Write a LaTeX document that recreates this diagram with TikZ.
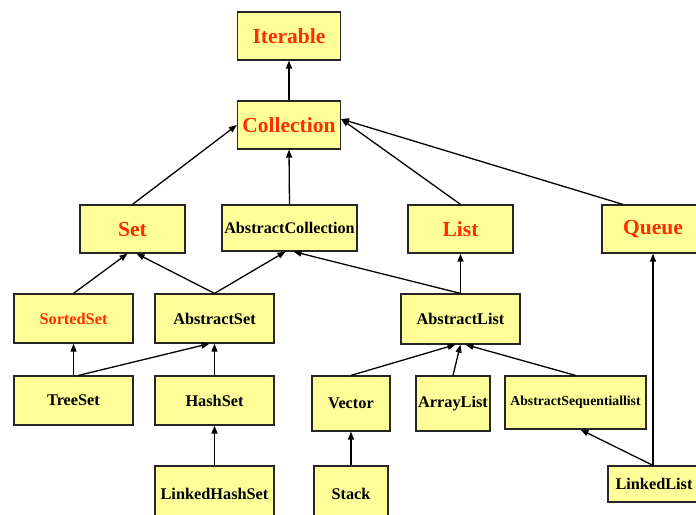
\documentclass[tikz,border=0pt]{standalone}
\usepackage{fontspec}
\setmainfont{Liberation Serif}
\usetikzlibrary{arrows.meta}
\definecolor{boxfill}{RGB}{255,255,153}
\definecolor{ifacered}{RGB}{255,45,0}
\begin{document}
\begin{tikzpicture}[x=1pt,y=-1pt,
  cls/.style={draw=black!85,line width=1.2pt,fill=boxfill,inner sep=0pt,
    font=\bfseries\fontsize{16.3}{18}\selectfont},
  iface/.style={cls,text=ifacered,font=\bfseries\fontsize{21.5}{24}\selectfont},
  edge/.style={line width=1.3pt,-{Triangle[length=8pt,width=6pt]}}]
\clip (0,0) rectangle (696,514);
\fill[white] (0,0) rectangle (696,514);
% interfaces
\node[iface,minimum width=103pt,minimum height=48pt] (iter) at (289,36) {Iterable};
\node[iface,minimum width=103pt,minimum height=48pt] (coll) at (289,125) {Collection};
\node[iface,minimum width=105pt,minimum height=48pt] (set) at (132.5,229) {Set};
\node[iface,minimum width=105pt,minimum height=48pt] (list) at (460.5,229) {List};
\node[iface,minimum width=102pt,minimum height=48pt] (queue) at (653,229) {Queue};
\node[cls,text=ifacered,minimum width=119pt,minimum height=49pt] (sorted) at (73.5,318.5) {SortedSet};
% abstract classes
\node[cls,font=\bfseries\fontsize{16.2}{17}\selectfont,minimum width=135pt,minimum height=46pt] (abscoll) at (289.5,228) {AbstractCollection};
\node[cls,minimum width=119pt,minimum height=49pt] (absset) at (214.5,318.5) {AbstractSet};
\node[cls,minimum width=119pt,minimum height=50pt] (absl) at (460.5,319) {AbstractList};
\node[cls,font=\bfseries\fontsize{13.7}{16}\selectfont,minimum width=141pt,minimum height=53pt] (aseq) at (575.5,402.5) {AbstractSequentiallist};
% concrete classes
\node[cls,minimum width=119pt,minimum height=49pt] (tree) at (73.5,400.5) {TreeSet};
\node[cls,minimum width=119pt,minimum height=49pt] (hash) at (214.5,400.5) {HashSet};
\node[cls,minimum width=119pt,minimum height=56pt] (lhs) at (214.5,494) {LinkedHashSet};
\node[cls,minimum width=78pt,minimum height=55pt] (vector) at (351,403.5) {Vector};
\node[cls,minimum width=74pt,minimum height=55pt] (array) at (453,403.5) {ArrayList};
\node[cls,minimum width=74pt,minimum height=56pt] (stack) at (351,494) {Stack};
\node[cls,minimum width=92pt,minimum height=36pt] (llist) at (654,484) {LinkedList};
% inheritance arrows
\draw[edge] (coll.north) -- (iter.south);
\draw[edge] (set.north) -- (coll.west);
\draw[edge] (abscoll.north) -- (coll.south);
\draw[edge] (list.north) -- ([yshift=6pt]coll.east);
\draw[edge] ([xshift=-30pt]queue.north) -- ([yshift=6pt]coll.east);
\draw[edge] (sorted.north) -- ([xshift=-5pt]set.south);
\draw[edge] (absset.north) -- ([xshift=4pt]set.south);
\draw[edge] (absset.north) -- ([xshift=-4pt]abscoll.south);
\draw[edge] (absl.north) -- ([xshift=4pt]abscoll.south);
\draw[edge] (absl.north) -- (list.south);
\draw[edge] (tree.north) -- (sorted.south);
\draw[edge] ([xshift=5pt]tree.north) -- ([xshift=-5pt]absset.south);
\draw[edge] (hash.north) -- (absset.south);
\draw[edge] (lhs.north) -- (hash.south);
\draw[edge] (vector.north) -- ([xshift=-5pt]absl.south);
\draw[edge] (array.north) -- (absl.south);
\draw[edge] (aseq.north) -- ([xshift=5pt]absl.south);
\draw[edge] (stack.north) -- (vector.south);
\draw[edge] ([xshift=-1pt]llist.north) -- ([xshift=5pt]aseq.south);
\draw[edge] ([xshift=-1pt]llist.north) -- (queue.south);
\end{tikzpicture}
\end{document}
